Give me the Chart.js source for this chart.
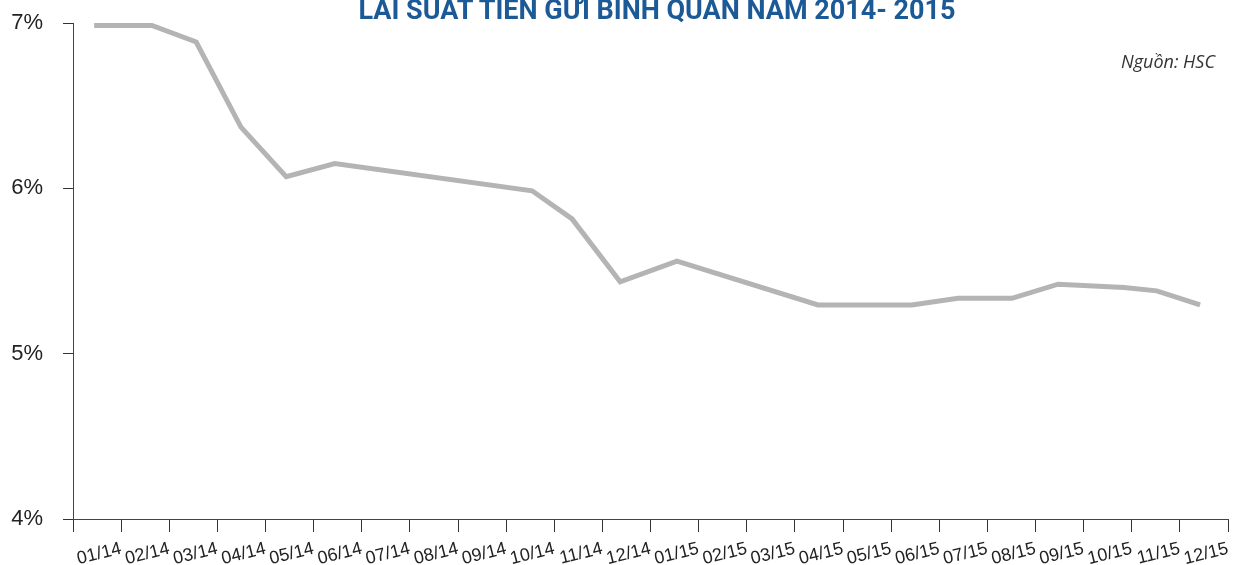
<!DOCTYPE html>
<html>
<head>
<meta charset="utf-8">
<script src="https://cdn.jsdelivr.net/npm/chart.js@4.4.1/dist/chart.umd.min.js"></script>
<style>
  html, body { margin: 0; padding: 0; background: #fff; }
  #wrap { position: relative; width: 1240px; height: 565px; overflow: hidden; }
  #title { position: absolute; top: -6px; left: 0; width: 1314px; text-align: center;
           font: bold 27px Roboto; color: #1b5a96; white-space: nowrap; }
  #note { position: absolute; top: 49px; right: 25px; font: italic 18px "Open Sans"; color: #333; }
  canvas { position: absolute; left: 0; top: 0; }
</style>
</head>
<body>
<div id="wrap">
  <canvas id="rateChart" width="1240" height="565"></canvas>
  <div id="title">LÃI SUẤT TIỀN GỬI BÌNH QUÂN NĂM 2014- 2015</div>
  <div id="note">Nguồn: HSC</div>
</div>
<script>
// month labels on the x axis
const months = ['01/14', '02/14', '03/14', '04/14', '05/14', '06/14', '07/14', '08/14', '09/14', '10/14', '11/14', '12/14',
                '01/15', '02/15', '03/15', '04/15', '05/15', '06/15', '07/15', '08/15', '09/15', '10/15', '11/15', '12/15'];

// position of each observation, in months from the start of 01/14
const obsMonth = [0.44, 1.64, 2.56, 3.49, 4.43, 5.44, 9.54, 10.37, 11.37, 12.55,
                  15.48, 17.43, 18.39, 19.51, 20.47, 21.84, 22.52, 23.42];
// average deposit rate (%)
const rate = [6.985, 6.985, 6.885, 6.37, 6.07, 6.15, 5.985, 5.815, 5.435, 5.56,
              5.295, 5.295, 5.335, 5.335, 5.42, 5.40, 5.38, 5.295];

const yTicks = [4, 5, 6, 7];

const points = obsMonth.map((m, i) => ({ x: m, y: rate[i] }));

const ctx = document.getElementById('rateChart').getContext('2d');
const rateChart = new Chart(ctx, {
    type: 'line',
    data: {
        datasets: [{
            label: 'Lãi suất',
            data: points,
            borderColor: '#b4b4b4',
            borderWidth: 5,
            pointRadius: 0,
            tension: 0,
            fill: false
        }]
    },
    options: {
        responsive: false,
        animation: false,
        layout: { padding: { left: 0, right: 12, top: 23, bottom: 0 } },
        plugins: { legend: { display: false }, tooltip: { enabled: false } },
        scales: {
            x: {
                type: 'linear',
                min: 0,
                max: 24,
                afterFit: s => { s.height = 46; },
                afterBuildTicks: s => { s.ticks = months.map((m, i) => ({ value: i })).concat([{ value: 24 }]); },
                ticks: {
                    autoSkip: false,
                    minRotation: 14,
                    maxRotation: 14,
                    padding: 6,
                    color: '#222',
                    font: { family: 'Liberation Sans', size: 18 },
                    callback: v => (v >= 1 ? months[v - 1] : '')
                },
                grid: { drawOnChartArea: false, drawTicks: true, tickLength: 13, color: '#333' },
                border: { display: true, color: '#34427a', width: 1 }
            },
            y: {
                min: 4,
                max: 7,
                // fixed axis width; no extra top/bottom padding from the labels
                afterFit: s => { s.width = 73; s.paddingTop = 0; s.paddingBottom = 0; },
                afterBuildTicks: s => { s.ticks = yTicks.map(v => ({ value: v })); },
                ticks: {
                    padding: 20,
                    color: '#222',
                    font: { family: 'Liberation Sans', size: 22 },
                    callback: v => v + '%'
                },
                grid: { drawOnChartArea: false, drawTicks: true, tickLength: 10, color: '#333' },
                border: { display: true, color: '#34427a', width: 1 }
            }
        }
    }
});
</script>
</body>
</html>
